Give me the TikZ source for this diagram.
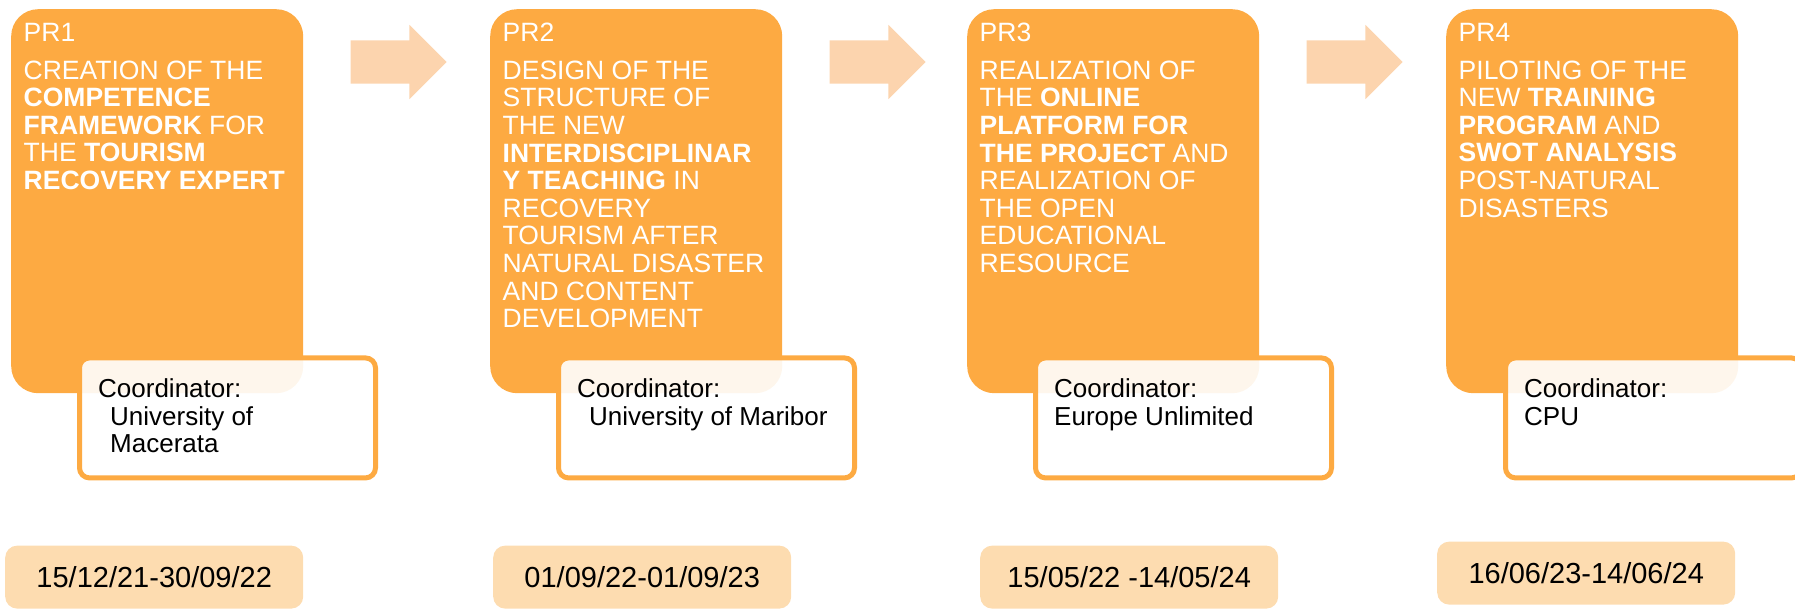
\documentclass[tikz,border=0pt]{standalone}
\usepackage{fontspec}
\setmainfont{Liberation Sans}
\usetikzlibrary{positioning}
\usetikzlibrary{shapes.arrows}

\definecolor{stageorange}{RGB}{253,170,66}
\definecolor{arrowpeach}{RGB}{252,212,174}
\definecolor{datepeach}{RGB}{253,220,176}

\tikzset{
  stagebox/.style={fill=stageorange, rounded corners=27pt, minimum width=292pt, minimum height=384pt, inner sep=0pt, anchor=north west},
  stagetext/.style={text=white, align=left, inner sep=0pt, anchor=north west, font=\fontsize{26.5}{27.6}\selectfont},
  coordbox/.style={draw=stageorange, line width=5pt, fill=white, fill opacity=0.9, rounded corners=10pt, minimum width=296pt, minimum height=120pt, inner sep=0pt, anchor=north west},
  coordtext/.style={align=left, inner sep=0pt, anchor=north west, font=\fontsize{26}{27.6}\selectfont},
  datebox/.style={fill=datepeach, rounded corners=12pt, minimum width=298pt, minimum height=63pt, inner sep=0pt, anchor=north west, font=\fontsize{29}{30}\selectfont},
  steparrow/.style={single arrow, fill=arrowpeach, text height=43pt, text depth=0pt, minimum height=96pt, single arrow head extend=15.5pt, single arrow head indent=0pt, inner sep=0pt, anchor=tail}
}

\begin{document}
\begin{tikzpicture}[x=1pt, y=-1pt]

  \clip (0,0) rectangle (1795,608);

  % Work packages
  \node[stagebox] (pr1) at (11,9) {};
  \node[stagebox] (pr2) at (490,9) {};
  \node[stagebox] (pr3) at (967,9) {};
  \node[stagebox] (pr4) at (1446,9) {};

  \node[stagetext] (pr1txt) at ([xshift=12.5pt, yshift=-14pt]pr1.north west)
    {PR1\\[10pt]CREATION OF THE\\\textbf{COMPETENCE}\\\textbf{FRAMEWORK} FOR\\THE \textbf{TOURISM}\\\textbf{RECOVERY EXPERT}};
  \node[stagetext] (pr2txt) at ([xshift=12.5pt, yshift=-14pt]pr2.north west)
    {PR2\\[10pt]DESIGN OF THE\\STRUCTURE OF\\THE NEW\\\textbf{INTERDISCIPLINAR}\\\textbf{Y TEACHING} IN\\RECOVERY\\TOURISM AFTER\\NATURAL DISASTER\\AND CONTENT\\DEVELOPMENT};
  \node[stagetext] (pr3txt) at ([xshift=12.5pt, yshift=-14pt]pr3.north west)
    {PR3\\[10pt]REALIZATION OF\\THE \textbf{ONLINE}\\\textbf{PLATFORM FOR}\\\textbf{THE PROJECT} AND\\REALIZATION OF\\THE OPEN\\EDUCATIONAL\\RESOURCE};
  \node[stagetext] (pr4txt) at ([xshift=12.5pt, yshift=-14pt]pr4.north west)
    {PR4\\[10pt]PILOTING OF THE\\NEW \textbf{TRAINING}\\\textbf{PROGRAM} AND\\\textbf{SWOT ANALYSIS}\\POST-NATURAL\\DISASTERS};

  % Coordinators
  \node[coordbox] (co1) at ([xshift=66pt, yshift=38pt]pr1.south west) {};
  \node[coordbox] (co2) at ([xshift=66pt, yshift=38pt]pr2.south west) {};
  \node[coordbox] (co3) at ([xshift=66pt, yshift=38pt]pr3.south west) {};
  \node[coordbox] (co4) at ([xshift=57pt, yshift=38pt]pr4.south west) {};

  \node[coordtext] (co1txt) at ([xshift=21pt, yshift=-23pt]co1.north west)
    {Coordinator:\\\hspace{12pt}University of\\\hspace{12pt}Macerata};
  \node[coordtext] (co2txt) at ([xshift=21pt, yshift=-23pt]co2.north west)
    {Coordinator:\\\hspace{12pt}University of Maribor};
  \node[coordtext] (co3txt) at ([xshift=21pt, yshift=-23pt]co3.north west)
    {Coordinator:\\Europe Unlimited};
  \node[coordtext] (co4txt) at ([xshift=21pt, yshift=-23pt]co4.north west)
    {Coordinator:\\CPU};

  % Dates
  \node[datebox] (d1) at ([xshift=-6pt, yshift=-152pt]pr1.south west) {15/12/21-30/09/22};
  \node[datebox] (d2) at ([xshift=3pt, yshift=-152pt]pr2.south west) {01/09/22-01/09/23};
  \node[datebox] (d3) at ([xshift=13pt, yshift=-152pt]pr3.south west) {15/05/22 -14/05/24};
  \node[datebox] (d4) at ([xshift=-9pt, yshift=-148pt]pr4.south west) {16/06/23-14/06/24};

  % Arrows between the stages
  \node[steparrow] (a12) at ([xshift=47pt, yshift=-53pt]pr1.north east) {};
  \node[steparrow] (a23) at ([xshift=47pt, yshift=-53pt]pr2.north east) {};
  \node[steparrow] (a34) at ([xshift=47pt, yshift=-53pt]pr3.north east) {};

\end{tikzpicture}
\end{document}
